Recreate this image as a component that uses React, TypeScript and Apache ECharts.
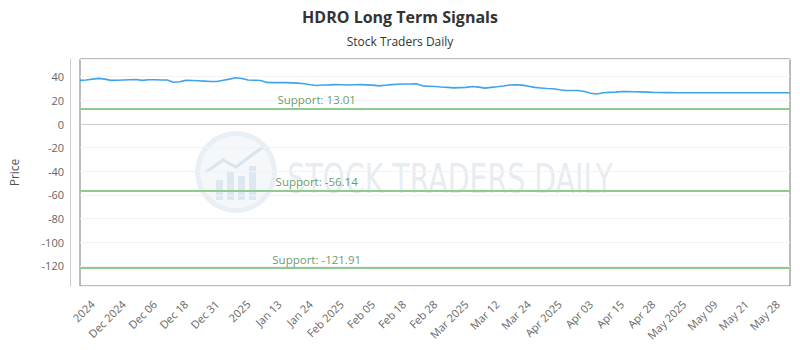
import React, { useEffect, useRef } from "react";
import * as echarts from "echarts";

// Tick labels shown on the x axis (every 5th point starting at index 2)
const tickLabels = [
  "2024", "Dec 2024", "Dec 06", "Dec 18", "Dec 31", "2025", "Jan 13", "Jan 24",
  "Feb 2025", "Feb 05", "Feb 18", "Feb 28", "Mar 2025", "Mar 12", "Mar 24",
  "Apr 2025", "Apr 03", "Apr 15", "Apr 28", "May 2025", "May 09", "May 21", "May 28",
];

// Price values
const prices = [
  36.9, 37.2, 38.0, 38.6, 38.0, 36.9, 37.0, 37.3, 37.5, 37.7,
  36.9, 37.4, 37.5, 37.3, 37.2, 35.3, 35.8, 36.9, 36.8, 36.6,
  36.3, 36.0, 36.0, 37.0, 38.0, 39.1, 38.5, 37.2, 37.0, 36.8,
  35.2, 35.0, 35.1, 35.0, 34.8, 34.6, 34.0, 33.2, 32.6, 33.0,
  33.1, 33.3, 33.2, 33.0, 33.2, 33.3, 33.1, 32.9, 32.3, 32.8,
  33.3, 33.6, 33.8, 33.9, 34.0, 32.3, 32.0, 31.7, 31.3, 31.0,
  30.6, 30.8, 31.0, 31.8, 31.2, 30.4, 31.0, 31.5, 32.2, 33.0,
  33.2, 32.9, 32.0, 31.0, 30.5, 30.0, 29.8, 29.0, 28.4, 28.4,
  28.4, 27.5, 26.0, 25.4, 26.5, 26.8, 27.0, 27.5, 27.4, 27.3,
  27.2, 27.0, 26.8, 26.7, 26.6, 26.6, 26.5, 26.5, 26.5, 26.5,
  26.5, 26.4, 26.4, 26.4, 26.4, 26.4, 26.4, 26.4, 26.4, 26.4,
  26.4, 26.4, 26.4, 26.4, 26.4,
];

const supports = [13.01, -56.14, -121.91];
const supportLabelIndex = 38;
const firstTickIndex = 2;
const tickStep = 5;

export default function App() {
  const ref = useRef<HTMLDivElement>(null);

  useEffect(() => {
    document.body.style.margin = "0";
    if (!ref.current) return;
    const chart = echarts.init(ref.current, undefined, { renderer: "svg" });

    const categories = prices.map((_, i) => {
      const k = (i - firstTickIndex) / tickStep;
      if (i >= firstTickIndex && Number.isInteger(k) && k < tickLabels.length) return tickLabels[k];
      return "d" + i;
    });

    const font = "'Open Sans', 'DejaVu Sans', sans-serif";
    const wm = "rgba(190,210,225,0.45)";

    chart.setOption({
      animation: false,
      backgroundColor: "#ffffff",
      title: {
        text: "HDRO Long Term Signals",
        subtext: "Stock Traders Daily",
        left: "center",
        top: 4,
        itemGap: 10,
        textStyle: { fontFamily: "'Open Sans', sans-serif", fontSize: 16, fontWeight: "bold", color: "#333333" },
        subtextStyle: { fontFamily: font, fontSize: 12, color: "#333333" },
      },
      graphic: [
        {
          type: "group",
          silent: true,
          z: 0,
          children: [
            { type: "ring", shape: { cx: 236, cy: 172, r: 41, r0: 36 }, style: { fill: "rgba(190,210,225,0.35)" } },
            { type: "circle", shape: { cx: 236, cy: 172, r: 36 }, style: { fill: "rgba(215,228,238,0.25)" } },
            { type: "rect", shape: { x: 216, y: 180, width: 7, height: 20 }, style: { fill: wm } },
            { type: "rect", shape: { x: 227, y: 172, width: 7, height: 28 }, style: { fill: wm } },
            { type: "rect", shape: { x: 238, y: 176, width: 7, height: 24 }, style: { fill: wm } },
            { type: "rect", shape: { x: 249, y: 166, width: 7, height: 34 }, style: { fill: wm } },
            { type: "polyline", shape: { points: [[206, 172], [223, 160], [236, 167], [263, 147]] }, style: { stroke: "rgba(190,210,225,0.5)", lineWidth: 3, fill: "none" } },
            {
              type: "text",
              x: 450,
              y: 179,
              scaleX: 0.71,
              originX: 0,
              originY: 0,
              style: {
                text: "STOCK TRADERS DAILY",
                fontFamily: "'DejaVu Sans', sans-serif",
                fontSize: 40,
                fill: "rgba(190,206,220,0.4)",
                align: "center",
                verticalAlign: "middle",
              },
            },
          ],
        },
      ],
      grid: {
        left: 72,
        right: 10,
        top: 59,
        bottom: 64,
        show: true,
        borderColor: "#777777",
        borderWidth: 1,
        backgroundColor: "transparent",
      },
      xAxis: {
        type: "category",
        data: categories,
        boundaryGap: false,
        offset: 10,
        axisLine: { show: true, lineStyle: { color: "#cccccc" } },
        axisTick: { show: false },
        splitLine: { show: false },
        axisLabel: {
          interval: (i: number) => i >= firstTickIndex && (i - firstTickIndex) % tickStep === 0,
          rotate: 45,
          fontFamily: font,
          fontSize: 11,
          color: "#666666",
          margin: 6,
        },
      },
      yAxis: {
        type: "value",
        name: "Price",
        nameLocation: "middle",
        nameGap: 50,
        nameTextStyle: { fontFamily: font, fontSize: 12, color: "#555555" },
        min: -137,
        max: 55,
        splitNumber: 10,
        offset: 10,
        axisLine: { show: true, lineStyle: { color: "#cccccc" } },
        axisTick: { show: false },
        axisLabel: {
          showMinLabel: false,
          showMaxLabel: false,
          fontFamily: font,
          fontSize: 11,
          color: "#666666",
          margin: 6,
        },
        splitLine: { show: true, lineStyle: { color: "#f2f2f2" } },
      },
      series: [
        {
          type: "line",
          data: prices,
          showSymbol: false,
          lineStyle: { color: "#3fa4e8", width: 1.6 },
          itemStyle: { color: "#3fa4e8" },
          z: 3,
          markLine: {
            silent: true,
            symbol: "none",
            label: { show: false },
            lineStyle: { color: "#8fca8f", width: 2, type: "solid" },
            data: supports.map((v) => ({ yAxis: v })),
          },
        },
        {
          type: "scatter",
          data: supports.map((v) => [supportLabelIndex, v]),
          symbolSize: 0,
          silent: true,
          z: 4,
          label: {
            show: true,
            position: "top",
            distance: 3,
            formatter: (p: any) => "Support: " + p.value[1].toFixed(2),
            fontFamily: font,
            fontSize: 11.5,
            color: "#3f7f3f",
          },
        },
      ],
    });

    return () => chart.dispose();
  }, []);

  return <div ref={ref} style={{ width: 800, height: 350 }} />;
}
